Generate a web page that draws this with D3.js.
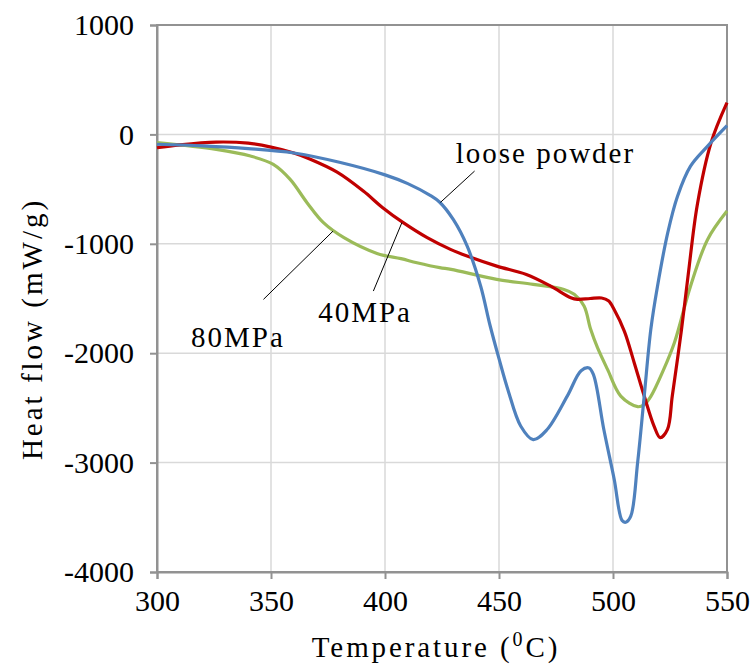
<!DOCTYPE html>
<html>
<head>
<meta charset="utf-8">
<script src="https://cdn.jsdelivr.net/npm/d3@7"></script>
<style>
  body { margin: 0; background: #fff; }
  text { font-family: "Liberation Serif", "Times New Roman", serif; fill: #000; }
</style>
</head>
<body>
<script>
// temperatures (C) and heat flow (mW/g)
var looseT = [300, 320, 340, 360, 380, 400, 410, 420, 424, 430, 436, 442, 446, 450, 454, 459.5, 465, 471, 480, 486, 489.5, 491.5, 496, 500.5, 504, 505.6, 507.8, 510.8, 513.7, 516.6, 519.5, 524, 528.3, 534, 541.5, 550];
var looseV = [-90, -105, -130, -170, -255, -370, -450, -560, -620, -780, -1020, -1390, -1740, -2050, -2340, -2665, -2790, -2700, -2390, -2160, -2135, -2200, -2700, -3150, -3530, -3545, -3490, -3000, -2390, -1780, -1390, -900, -565, -290, -107, 80];

var mpa40T = [300, 310, 326, 340, 350, 360, 367, 379, 390.5, 399, 408, 418.5, 428.7, 436, 449, 462, 472.7, 481.5, 484.4, 490, 495, 498, 500.5, 505, 509.3, 513.7, 518, 520.7, 523.9, 526, 530, 533, 537, 543, 550];
var mpa40V = [-122, -95, -70, -80, -116, -170, -225, -345, -518, -670, -807, -944, -1051, -1112, -1204, -1280, -1387, -1493, -1508, -1500, -1495, -1520, -1600, -1800, -2087, -2392, -2666, -2772, -2696, -2392, -1790, -1280, -640, -76, 290];

var mpa80T = [300, 326, 341, 351, 358.4, 365.8, 373, 382, 396.5, 407, 414, 424, 429, 449, 465, 478.5, 483, 487.3, 490.2, 493.2, 497.6, 503.4, 510.8, 513.7, 516.6, 522, 527, 534, 541.5, 550];
var mpa80V = [-76, -137, -198, -274, -411, -624, -807, -944, -1088, -1136, -1173, -1218, -1234, -1325, -1371, -1417, -1462, -1569, -1782, -1950, -2148, -2392, -2489, -2470, -2395, -2160, -1900, -1387, -960, -701];

var xTicks = [300, 350, 400, 450, 500, 550];
var yTicks = [1000, 0, -1000, -2000, -3000, -4000];

// label text, leader line from (t1,v1) to (t2,v2), text anchored at (tt,vt)
var labels = [
  {name: "loose powder", t1: 424.3, v1: -622, t2: 439.3, v2: -335, tt: 431, vt: -260},
  {name: "40MPa", t1: 394.9, v1: -1432, t2: 407.4, v2: -807, tt: 370.7, vt: -1715},
  {name: "80MPa", t1: 346.7, v1: -1508, t2: 377.2, v2: -884, tt: 314.9, vt: -1947}
];

var series = [
  {name: "80MPa", t: mpa80T, v: mpa80V, color: "#9bbb59"},
  {name: "40MPa", t: mpa40T, v: mpa40V, color: "#c00000"},
  {name: "loose powder", t: looseT, v: looseV, color: "#4f81bd"}
];

var width = 753, height = 666;
var margin = {top: 25, left: 157, right: 26, bottom: 94};

var svg = d3.select("body").append("svg")
    .attr("width", width)
    .attr("height", height);

var x = d3.scaleLinear().domain([300, 550]).range([margin.left, width - margin.right]);
var y = d3.scaleLinear().domain([-4000, 1000]).range([height - margin.bottom, margin.top]);

// gridlines
svg.append("g").selectAll("line")
    .data(xTicks).enter().append("line")
    .attr("x1", d => x(d)).attr("x2", d => x(d))
    .attr("y1", y(1000)).attr("y2", y(-4000))
    .style("stroke", "#d9d9d9").style("stroke-width", 1.5);

svg.append("g").selectAll("line")
    .data(yTicks).enter().append("line")
    .attr("x1", x(300)).attr("x2", x(550))
    .attr("y1", d => y(d)).attr("y2", d => y(d))
    .style("stroke", "#d9d9d9").style("stroke-width", 1.5);

// box
svg.append("rect")
    .attr("x", x(300)).attr("y", y(1000))
    .attr("width", x(550) - x(300)).attr("height", y(-4000) - y(1000))
    .style("fill", "none").style("stroke", "#929292").style("stroke-width", 2);

// axes
var xAxis = svg.append("g")
    .attr("transform", "translate(0," + y(-4000) + ")")
    .call(d3.axisBottom(x).tickValues(xTicks).tickSize(7).tickPadding(11).tickFormat(d => String(d)));
var yAxis = svg.append("g")
    .attr("transform", "translate(" + x(300) + ",0)")
    .call(d3.axisLeft(y).tickValues(yTicks).tickSize(7).tickPadding(16).tickFormat(d => String(d)));

[xAxis, yAxis].forEach(function (g) {
    g.select(".domain").style("stroke", "#929292").style("stroke-width", 2);
    g.selectAll(".tick line").style("stroke", "#929292").style("stroke-width", 2);
    g.selectAll(".tick text").style("font-size", "30px")
        .style("font-family", "'Liberation Serif', serif").style("fill", "#000");
});

// curves
var line = d3.line()
    .x(d => x(d[0]))
    .y(d => y(d[1]))
    .curve(d3.curveCatmullRom.alpha(0.5));

svg.append("g").selectAll("path")
    .data(series).enter().append("path")
    .attr("d", s => line(d3.zip(s.t, s.v)))
    .style("fill", "none")
    .style("stroke", s => s.color)
    .style("stroke-width", 3.2)
    .style("stroke-linejoin", "round");

// annotations
var ann = svg.append("g").selectAll("g").data(labels).enter().append("g");
ann.append("line")
    .attr("x1", d => x(d.t1)).attr("y1", d => y(d.v1))
    .attr("x2", d => x(d.t2)).attr("y2", d => y(d.v2))
    .style("stroke", "#000").style("stroke-width", 1);
ann.append("text")
    .attr("x", d => x(d.tt)).attr("y", d => y(d.vt))
    .style("font-size", "29px")
    .style("letter-spacing", "2px")
    .text(d => d.name);

// axis titles
var xt = svg.append("text")
    .attr("x", 436)
    .attr("y", 657)
    .attr("text-anchor", "middle")
    .style("font-size", "29px")
    .style("letter-spacing", "2.9px");
xt.append("tspan").text("Temperature (");
xt.append("tspan").attr("dy", -11).style("font-size", "20px").text("0");
xt.append("tspan").attr("dy", 11).text("C)");

svg.append("text")
    .attr("transform", "translate(42,329) rotate(-90)")
    .attr("text-anchor", "middle")
    .style("font-size", "29px")
    .style("letter-spacing", "3px")
    .text("Heat flow (mW/g)");
</script>
</body>
</html>
